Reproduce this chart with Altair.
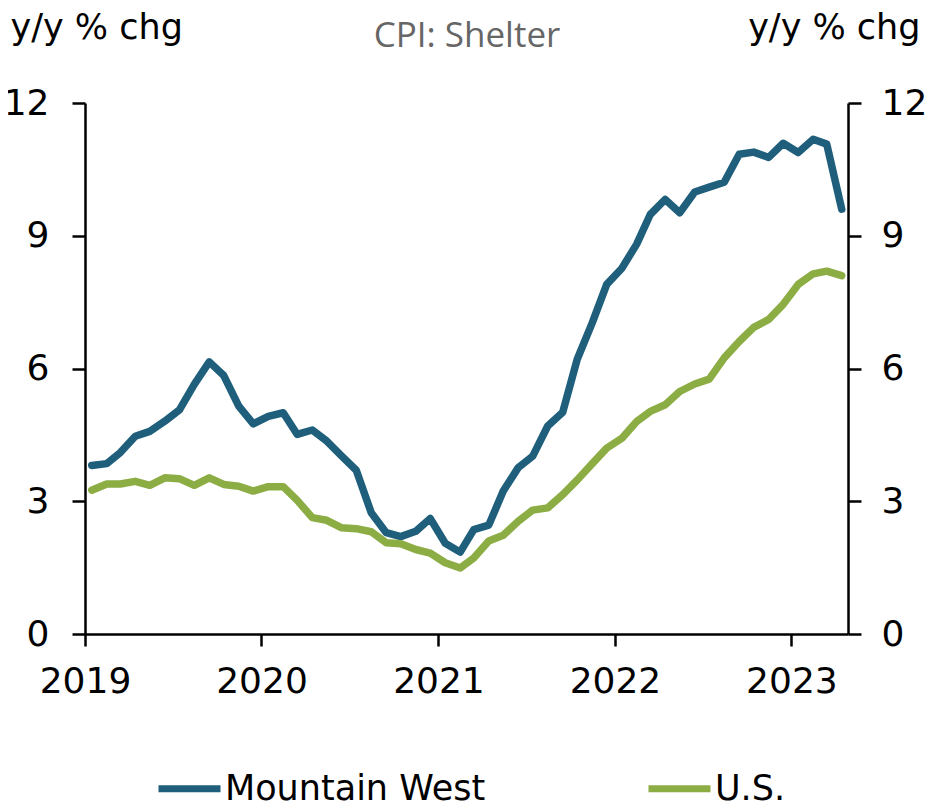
import altair as alt
import pandas as pd

# ---- data ----
years = [2019, 2020, 2021, 2022, 2023]
months = [(y, m) for y in range(2019, 2024) for m in range(1, 13)][:52]  # Jan 2019 .. Apr 2023
dates = [f"{y}-{m:02d}-15T00:00:00" for y, m in months]

series_names = ["Mountain West", "U.S."]
series_colors = ["#1F5F7B", "#8BAD44"]

mountain_west = [3.81, 3.85, 4.10, 4.47, 4.58, 4.81, 5.06, 5.64, 6.15, 5.84, 5.15, 4.75,
                 4.92, 5.00, 4.51, 4.61, 4.36, 4.02, 3.70, 2.74, 2.29, 2.20, 2.32, 2.61,
                 2.05, 1.85, 2.36, 2.46, 3.23, 3.76, 4.02, 4.70, 5.01, 6.21, 7.03, 7.90,
                 8.26, 8.81, 9.48, 9.82, 9.52, 9.99, 10.10, 10.21, 10.84, 10.89, 10.77, 11.09,
                 10.88, 11.18, 11.07, 9.60]

us = [3.25, 3.39, 3.39, 3.45, 3.36, 3.53, 3.51, 3.36, 3.53, 3.38, 3.34, 3.23,
      3.33, 3.33, 3.02, 2.63, 2.57, 2.40, 2.38, 2.31, 2.06, 2.04, 1.91, 1.83,
      1.61, 1.49, 1.72, 2.10, 2.23, 2.55, 2.80, 2.85, 3.15, 3.48, 3.85, 4.20,
      4.42, 4.80, 5.03, 5.18, 5.48, 5.65, 5.76, 6.24, 6.61, 6.93, 7.11, 7.45,
      7.90, 8.14, 8.20, 8.10]

y_ticks = [0, 3, 6, 9, 12]
chart_title = "CPI: Shelter"
axis_title = "y/y % chg"

df = pd.DataFrame({
    "date": dates * 2,
    "series": [series_names[0]] * len(dates) + [series_names[1]] * len(dates),
    "value": mountain_west + us,
})

x_domain = [alt.DateTime(year=2019, month=1, date=1), alt.DateTime(year=2023, month=4, date=28)]
x_scale = alt.Scale(domain=x_domain)
y_scale = alt.Scale(domain=[0, 12], nice=False, zero=True)
x_axis = alt.Axis(values=[alt.DateTime(year=y, month=1, date=1) for y in years],
                  format="%Y", title=None, tickSize=12, labelPadding=18,
                  labelFlush=False, labelOverlap=False)

lines = alt.Chart(df).mark_line(strokeWidth=7.5, strokeCap="round", strokeJoin="round").encode(
    x=alt.X("date:T", scale=x_scale, axis=x_axis),
    y=alt.Y("value:Q", scale=y_scale,
            axis=alt.Axis(values=y_ticks, title=axis_title, titleAngle=0, titleX=-75, titleY=-65,
                          titleAlign="left", titleBaseline="alphabetic",
                          tickSize=13, labelPadding=23, labelFlush=False)),
    color=alt.Color("series:N", scale=alt.Scale(domain=series_names, range=series_colors),
                    legend=alt.Legend(title=None, orient="none", legendX=70, legendY=651,
                                      direction="horizontal", symbolType="stroke",
                                      symbolSize=3844, symbolStrokeWidth=7,
                                      labelFont="DejaVu Sans", labelFontSize=35,
                                      labelColor="black", labelOffset=1, labelLimit=600,
                                      columnPadding=148, padding=0)),
)

right = alt.Chart(df).mark_line(strokeOpacity=0).encode(
    x=alt.X("date:T", scale=x_scale, axis=x_axis),
    y=alt.Y("value:Q", scale=y_scale,
            axis=alt.Axis(orient="right", values=y_ticks, title=axis_title, titleAngle=0,
                          titleX=72, titleY=-65, titleAlign="right",
                          titleBaseline="alphabetic", tickSize=13, labelPadding=20,
                          labelFlush=False)),
    detail="series:N",
)

title_layer = alt.Chart(pd.DataFrame({"t": [chart_title]})).mark_text(
    font="Open Sans", fontSize=35, color="#666666", align="center", baseline="alphabetic"
).encode(x=alt.value(382), y=alt.value(-56), text="t:N")

chart = alt.layer(lines, right, title_layer).resolve_scale(y="independent").properties(
    width=763, height=531,
    autosize=alt.AutoSizeParams(type="none"),
    padding={"left": 77, "top": 95, "right": 78, "bottom": 171},
).configure_view(stroke=None).configure_axis(
    grid=False, domainColor="black", tickColor="black", labelColor="black",
    domainWidth=2.5, tickWidth=2.5,
    labelFont="DejaVu Sans", labelFontSize=36,
    titleFont="DejaVu Sans", titleFontSize=35, titleFontWeight="normal", titleColor="black",
)

chart.save("out.html", embed_options={"renderer": "svg", "actions": False})
